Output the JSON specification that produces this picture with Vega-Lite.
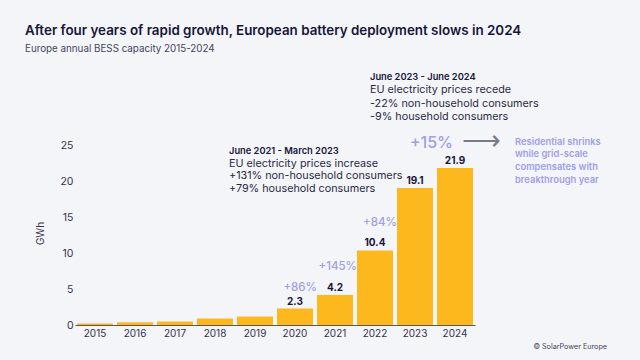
{
  "$schema": "https://vega.github.io/schema/vega-lite/v6.json",
  "autosize": "none",
  "width": 400,
  "height": 251,
  "padding": {"left": 75, "top": 74, "right": 165, "bottom": 35},
  "background": "#f4f5f9",
  "title": {
    "text": "After four years of rapid growth, European battery deployment slows in 2024",
    "subtitle": "Europe annual BESS capacity 2015-2024",
    "anchor": "start",
    "frame": "group",
    "dx": -50,
    "offset": 19,
    "font": "Inter",
    "fontSize": 13.4,
    "fontWeight": 600,
    "color": "#16163a",
    "subtitleFont": "Inter",
    "subtitleFontSize": 9.8,
    "subtitleColor": "#44445a",
    "subtitlePadding": 7
  },
  "datasets": {
    "capacity": [
      {"year": "2015", "gwh": 0.2},
      {"year": "2016", "gwh": 0.4},
      {"year": "2017", "gwh": 0.5},
      {"year": "2018", "gwh": 0.9},
      {"year": "2019", "gwh": 1.2},
      {"year": "2020", "gwh": 2.3},
      {"year": "2021", "gwh": 4.2},
      {"year": "2022", "gwh": 10.4},
      {"year": "2023", "gwh": 19.1},
      {"year": "2024", "gwh": 21.9}
    ],
    "growth": [
      {"year": "2021", "y": 5.2, "text": "+86%"},
      {"year": "2022", "y": 8.1, "text": "+145%"},
      {"year": "2023", "y": 14.2, "text": "+84%"}
    ]
  },
  "layer": [
    {
      "data": {"name": "capacity"},
      "mark": {"type": "bar", "color": "#fdb81e"},
      "encoding": {
        "x": {
          "field": "year", "type": "ordinal",
          "scale": {"paddingInner": 0.1, "paddingOuter": 0.05},
          "axis": {"title": null, "labelAngle": 0, "ticks": false, "labelPadding": 3, "domainColor": "#555566", "labelColor": "#33334a", "labelFont": "Inter", "labelFontSize": 10, "zindex": 1}
        },
        "y": {
          "field": "gwh", "type": "quantitative",
          "scale": {"domain": [0, 35], "nice": false},
          "axis": {"title": "GWh", "values": [0, 5, 10, 15, 20, 25], "domain": false, "ticks": false, "grid": false, "labelPadding": 2, "labelColor": "#33334a", "labelFont": "Inter", "labelFontSize": 10.5, "titleFont": "Inter", "titleFontSize": 10, "titleFontWeight": 400, "titleColor": "#33334a", "titleX": -30, "titleY": 159}
        }
      }
    },
    {
      "data": {"name": "capacity"},
      "transform": [{"filter": "datum.gwh >= 2"}],
      "mark": {"type": "text", "baseline": "bottom", "dy": -2, "font": "Inter", "fontSize": 10, "fontWeight": 700, "color": "#16163a"},
      "encoding": {
        "x": {"field": "year", "type": "ordinal"},
        "y": {"field": "gwh", "type": "quantitative"},
        "text": {"field": "gwh", "type": "quantitative", "format": ".1f"}
      }
    },
    {
      "data": {"name": "growth"},
      "mark": {"type": "text", "align": "right", "baseline": "middle", "dx": -18, "font": "Inter", "fontSize": 11.5, "fontWeight": 500, "color": "#a09ee6"},
      "encoding": {
        "x": {"field": "year", "type": "ordinal"},
        "y": {"field": "y", "type": "quantitative"},
        "text": {"field": "text"}
      }
    },
    {
      "data": {"values": [{"year": "2024", "y": 25.4, "text": "+15%"}]},
      "mark": {"type": "text", "align": "right", "baseline": "middle", "dx": -2, "font": "Inter", "fontSize": 16, "fontWeight": 500, "color": "#a09ee6"},
      "encoding": {
        "x": {"field": "year", "type": "ordinal"},
        "y": {"field": "y", "type": "quantitative"},
        "text": {"field": "text"}
      }
    },
    {
      "data": {"values": [{"year": "2024", "y": 25.6, "text": "⟶"}]},
      "mark": {"type": "text", "align": "center", "baseline": "middle", "dx": 26, "font": "DejaVu Sans", "fontSize": 27, "fontWeight": 300, "color": "#7a7a8e"},
      "encoding": {
        "x": {"field": "year", "type": "ordinal"},
        "y": {"field": "y", "type": "quantitative"},
        "text": {"field": "text"}
      }
    },
    {
      "data": {"values": [{"year": "2024", "y": 25.56, "text": "Residential shrinks\nwhile grid-scale\ncompensates with\nbreakthrough year"}]},
      "mark": {"type": "text", "align": "left", "baseline": "middle", "dx": 60, "lineBreak": "\n", "lineHeight": 12.8, "font": "Inter", "fontSize": 9.4, "fontWeight": 600, "color": "#a09ee6"},
      "encoding": {
        "x": {"field": "year", "type": "ordinal"},
        "y": {"field": "y", "type": "quantitative"},
        "text": {"field": "text"}
      }
    },
    {
      "data": {"values": [{"year": "2018", "y": 24.3, "text": "June 2021 - March 2023"}]},
      "mark": {"type": "text", "align": "left", "baseline": "middle", "dx": 14, "font": "Inter", "fontSize": 9.3, "fontWeight": 600, "color": "#16163a"},
      "encoding": {
        "x": {"field": "year", "type": "ordinal"},
        "y": {"field": "y", "type": "quantitative"},
        "text": {"field": "text"}
      }
    },
    {
      "data": {"values": [{"year": "2018", "y": 22.5, "text": "EU electricity prices increase\n+131% non-household consumers\n+79% household consumers"}]},
      "mark": {"type": "text", "align": "left", "baseline": "middle", "dx": 14, "lineBreak": "\n", "lineHeight": 12.7, "font": "Inter", "fontSize": 10.8, "fontWeight": 400, "color": "#2a2a44"},
      "encoding": {
        "x": {"field": "year", "type": "ordinal"},
        "y": {"field": "y", "type": "quantitative"},
        "text": {"field": "text"}
      }
    },
    {
      "data": {"values": [{"year": "2022", "y": 34.6, "text": "June 2023 - June 2024"}]},
      "mark": {"type": "text", "align": "left", "baseline": "middle", "dx": -5, "font": "Inter", "fontSize": 9.3, "fontWeight": 600, "color": "#16163a"},
      "encoding": {
        "x": {"field": "year", "type": "ordinal"},
        "y": {"field": "y", "type": "quantitative"},
        "text": {"field": "text"}
      }
    },
    {
      "data": {"values": [{"year": "2022", "y": 32.7, "text": "EU electricity prices recede\n-22% non-household consumers\n-9% household consumers"}]},
      "mark": {"type": "text", "align": "left", "baseline": "middle", "dx": -5, "lineBreak": "\n", "lineHeight": 13.1, "font": "Inter", "fontSize": 10.8, "fontWeight": 400, "color": "#2a2a44"},
      "encoding": {
        "x": {"field": "year", "type": "ordinal"},
        "y": {"field": "y", "type": "quantitative"},
        "text": {"field": "text"}
      }
    },
    {
      "data": {"values": [{"year": "2024", "y": -3.1, "text": "© SolarPower Europe"}]},
      "mark": {"type": "text", "align": "right", "baseline": "middle", "dx": 152, "font": "Inter", "fontSize": 7.2, "color": "#44445a"},
      "encoding": {
        "x": {"field": "year", "type": "ordinal"},
        "y": {"field": "y", "type": "quantitative"},
        "text": {"field": "text"}
      }
    }
  ],
  "config": {"view": {"stroke": null}}
}
